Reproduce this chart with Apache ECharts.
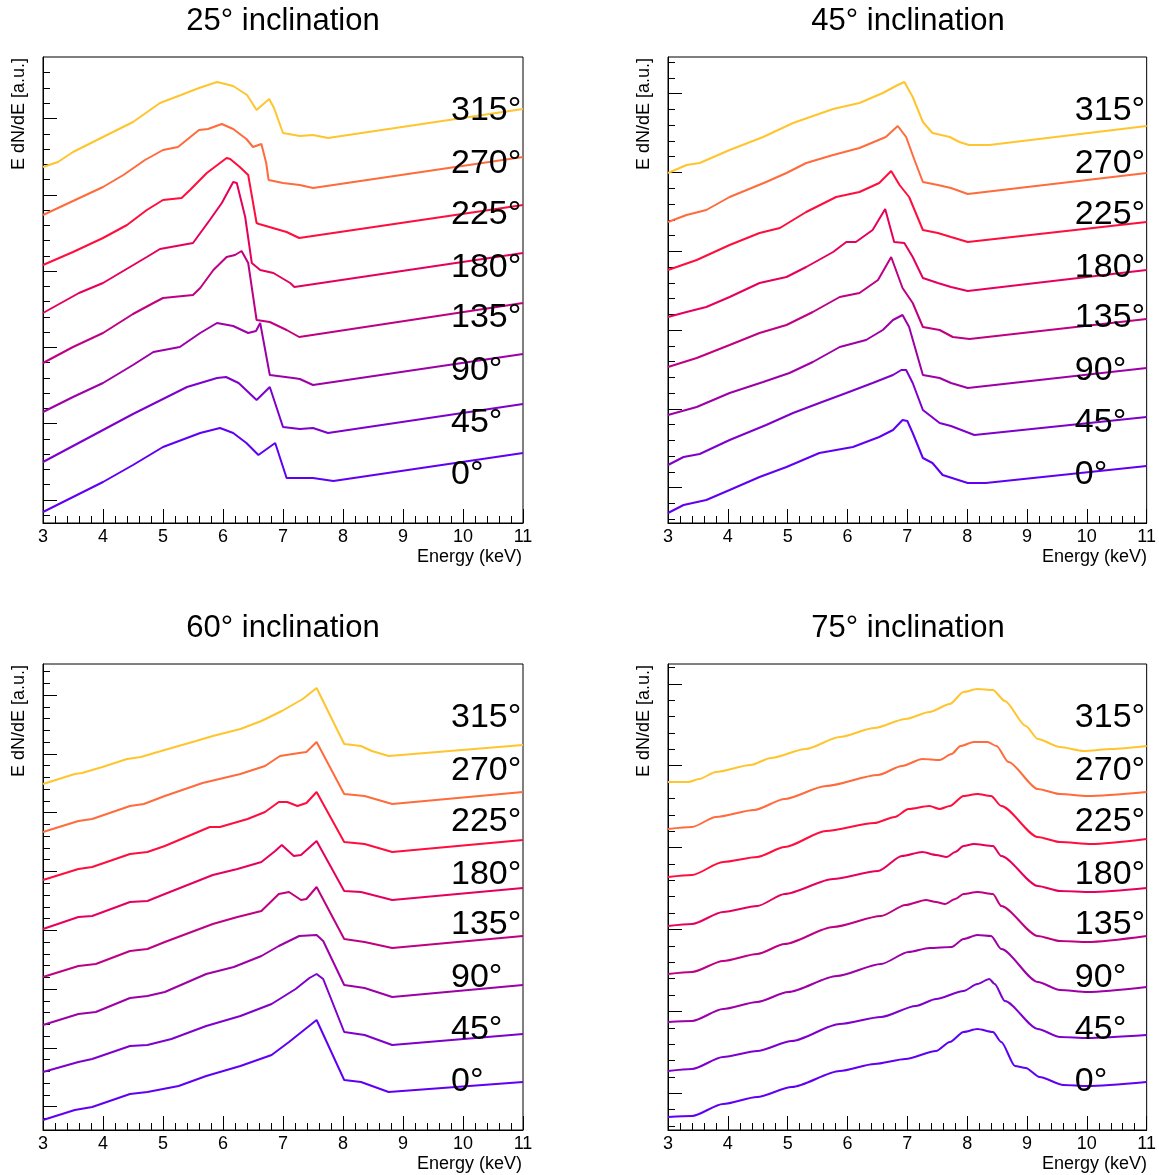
<!DOCTYPE html>
<html><head><meta charset="utf-8">
<script src="https://cdn.jsdelivr.net/npm/echarts@6/dist/echarts.min.js"></script>
<style>html,body{margin:0;padding:0;background:#fff}#c{width:1159px;height:1175px}</style>
</head><body><div id="c"></div>
<script>
// ---------- labels / categories ----------
const angleLabels = ['0°','45°','90°','135°','180°','225°','270°','315°'];
const curveColors = ['#5f00f5','#7d00cc','#9d00a6','#bf0080','#e6005e','#ff0d3d','#ff6b3b','#ffc52e'];
const panelTitles = ['25° inclination','45° inclination','60° inclination','75° inclination'];
const xTickValues = [3,4,5,6,7,8,9,10,11];
// y-axis tick marks (a.u.): first major tick and major spacing, per panel
const yMajorStart = [2.3, 3.53, 2.33, 3.67];
const yMajorStep  = [7.63, 7.88, 5.88, 8.19];
// angle-label anchor levels (a.u.) and energy (keV)
const labelLevels = [4.8, 10.0, 15.2, 20.5, 25.5, 30.8, 35.9, 41.2];
const labelEnergy = 9.8;

// ---------- 25° inclination : [energy keV, E dN/dE a.u. (offset)] ----------
const p25_0   = [[3,1.1],[3.5,2.6],[4,4.1],[4.5,5.8],[5,7.6],[5.62,9.0],[5.95,9.5],[6.17,9.0],[6.39,8.0],[6.59,6.8],[6.87,8.0],[7.06,4.5],[7.5,4.5],[7.84,4.2],[11,7.0]];
const p25_45  = [[3,6.1],[3.5,7.7],[4,9.3],[4.5,10.9],[4.9,12.1],[5.4,13.6],[5.9,14.5],[6.05,14.6],[6.26,14.0],[6.56,12.3],[6.78,13.6],[7.0,9.6],[7.28,9.4],[7.5,9.5],[7.75,9.0],[11,11.9]];
const p25_90  = [[3,11.1],[3.5,12.6],[4,14.0],[4.5,15.8],[4.84,17.1],[5.28,17.6],[5.62,19.0],[5.9,20.0],[6.17,19.7],[6.42,19.0],[6.55,19.2],[6.62,20.0],[6.78,14.8],[7.17,14.5],[7.28,14.4],[7.5,13.8],[11,16.9]];
const p25_135 = [[3,16.0],[3.5,17.6],[4,19.0],[4.5,20.9],[4.84,22.0],[5,22.5],[5.5,22.8],[5.62,23.5],[5.84,25.3],[6.06,26.6],[6.2,26.8],[6.31,27.2],[6.42,26.0],[6.56,20.3],[6.78,20.1],[7.06,19.3],[7.27,18.6],[11,22.0]];
const p25_180 = [[3,21.0],[3.6,23.0],[4,24.0],[4.73,26.6],[4.95,27.4],[5.5,28.0],[5.78,30.3],[5.98,32.0],[6.17,34.1],[6.23,34.0],[6.37,30.6],[6.48,26.0],[6.62,25.3],[6.84,25.0],[7.12,24.0],[7.19,23.6],[11,27.0]];
const p25_225 = [[3,25.8],[3.5,27.1],[4,28.5],[4.4,29.8],[4.73,31.3],[5,32.3],[5.31,32.5],[5.45,33.3],[5.73,35.0],[6.06,36.5],[6.12,36.4],[6.28,35.6],[6.42,34.8],[6.56,30.0],[6.6,29.9],[7.06,29.1],[7.27,28.5],[11,31.8]];
const p25_270 = [[3,30.8],[3.5,32.2],[4,33.6],[4.34,34.8],[4.7,36.3],[5,37.3],[5.25,37.6],[5.6,39.3],[5.75,39.4],[5.98,39.9],[6.17,39.4],[6.39,38.4],[6.5,37.6],[6.64,37.9],[6.72,36.0],[6.76,34.3],[7,34.0],[7.28,33.8],[7.5,33.5],[11,36.6]];
const p25_315 = [[3,35.6],[3.25,36.1],[3.5,37.1],[4,38.6],[4.5,40.1],[4.95,42.0],[5.3,42.8],[5.6,43.5],[5.9,44.1],[6.17,43.7],[6.4,42.8],[6.56,41.3],[6.77,42.4],[6.85,41.5],[7,39.0],[7.28,38.7],[7.5,38.8],[7.75,38.5],[11,41.4]];

// ---------- 45° inclination ----------
const p45_0   = [[3,1.0],[3.26,1.8],[3.64,2.3],[4.03,3.3],[4.53,4.6],[4.98,5.6],[5.53,7.0],[6.09,7.6],[6.53,8.6],[6.76,9.3],[6.92,10.3],[7.0,10.2],[7.09,9.0],[7.26,6.5],[7.42,6.0],[7.59,4.8],[8.01,4.0],[8.31,4.0],[11,5.7]];
const p45_45  = [[3,5.8],[3.26,6.6],[3.53,6.9],[4.03,8.3],[4.64,9.8],[5.09,11.0],[5.53,12.0],[5.98,13.0],[6.42,14.0],[6.76,14.8],[6.9,15.3],[6.98,15.3],[7.09,14.0],[7.26,11.3],[7.54,10.0],[7.73,9.7],[8.12,8.8],[11,10.6]];
const p45_90  = [[3,10.8],[3.48,11.6],[4.03,13.0],[4.59,14.1],[5.03,15.0],[5.42,16.1],[5.87,17.6],[6.31,18.3],[6.59,19.3],[6.76,20.3],[6.92,20.8],[7.03,19.6],[7.26,14.8],[7.54,14.5],[7.73,14.0],[8.01,13.5],[11,15.5]];
const p45_135 = [[3,15.6],[3.48,16.5],[4.03,17.8],[4.53,19.0],[4.98,19.8],[5.42,21.1],[5.87,22.6],[6.2,23.0],[6.51,24.3],[6.73,26.6],[6.92,23.5],[7.09,22.0],[7.26,19.6],[7.54,19.3],[7.76,18.6],[8.04,18.4],[11,20.4]];
const p45_180 = [[3,20.6],[3.31,21.1],[3.64,21.6],[4.03,22.6],[4.53,24.0],[4.98,24.6],[5.31,25.6],[5.76,27.1],[5.98,28.1],[6.14,28.1],[6.42,29.3],[6.63,31.4],[6.78,28.1],[6.95,28.0],[7.09,26.6],[7.26,24.5],[7.51,24.0],[7.73,23.6],[8.01,23.2],[11,25.3]];
const p45_225 = [[3,25.3],[3.48,26.3],[4.03,27.8],[4.53,29.0],[4.87,29.5],[5.31,31.1],[5.81,32.6],[6.2,33.1],[6.53,34.0],[6.73,35.2],[6.87,33.8],[7.03,32.6],[7.26,29.3],[7.51,29.0],[7.73,28.6],[8.01,28.1],[11,30.1]];
const p45_270 = [[3,30.1],[3.31,30.8],[3.64,31.3],[4.03,32.6],[4.64,34.1],[4.98,35.0],[5.31,36.0],[5.76,36.8],[6.2,37.5],[6.64,38.6],[6.84,39.7],[6.98,38.6],[7.12,36.3],[7.26,34.1],[7.51,33.8],[7.73,33.5],[8.01,32.9],[11,35.0]];
const p45_315 = [[3,35.0],[3.31,35.8],[3.53,36.0],[4.03,37.3],[4.59,38.6],[5.09,40.0],[5.76,41.4],[6.2,42.0],[6.59,43.0],[6.84,43.8],[6.95,44.1],[7.09,42.6],[7.26,40.1],[7.42,39.0],[7.71,38.6],[7.87,38.1],[8.03,37.8],[8.37,37.8],[11,39.7]];

// ---------- 60° inclination ----------
const p60_0   = [[3,1.0],[3.53,2.0],[3.82,2.3],[4.45,3.6],[4.74,3.8],[5.26,4.4],[5.72,5.4],[6.29,6.4],[6.81,7.5],[7.1,8.8],[7.33,9.9],[7.56,11.0],[8.02,5.0],[8.3,4.8],[8.76,3.8],[11,4.8]];
const p60_45  = [[3,5.8],[3.59,6.8],[3.82,7.1],[4.45,8.4],[4.74,8.5],[5.14,9.1],[5.72,10.4],[6.29,11.4],[6.81,12.6],[7.21,14.1],[7.44,15.2],[7.56,15.6],[7.67,15.1],[8.02,9.8],[8.36,9.5],[8.82,8.5],[11,9.6]];
const p60_90  = [[3,10.5],[3.59,11.6],[3.88,11.8],[4.45,13.2],[4.74,13.4],[5.03,13.8],[5.72,15.6],[6.18,16.3],[6.64,17.4],[6.93,18.4],[7.27,19.4],[7.56,19.5],[7.67,18.9],[8.02,14.5],[8.36,14.2],[8.82,13.3],[11,14.5]];
const p60_135 = [[3,15.3],[3.59,16.4],[3.88,16.6],[4.45,17.9],[4.74,18.1],[5.03,18.8],[5.83,20.6],[6.24,21.3],[6.64,21.9],[6.93,23.6],[7.1,23.8],[7.3,23.0],[7.39,23.1],[7.56,24.3],[8.02,19.1],[8.36,18.8],[8.82,18.2],[11,19.4]];
const p60_180 = [[3,20.1],[3.59,21.3],[3.82,21.4],[4.45,22.8],[4.74,22.9],[5.03,23.6],[5.83,25.5],[6.24,26.1],[6.64,26.8],[6.87,27.9],[6.98,28.5],[7.18,27.4],[7.3,27.5],[7.56,28.9],[8.02,23.9],[8.3,23.8],[8.82,23.0],[11,24.2]];
const p60_225 = [[3,25.0],[3.59,26.1],[3.82,26.3],[4.45,27.6],[4.74,27.8],[5.03,28.4],[5.78,30.3],[5.95,30.3],[6.41,31.1],[6.7,31.8],[6.93,32.8],[7.07,32.8],[7.24,32.4],[7.39,32.7],[7.56,33.8],[8.02,28.8],[8.36,28.6],[8.82,27.8],[11,29.0]];
const p60_270 = [[3,29.8],[3.59,30.9],[3.82,31.1],[4.45,32.4],[4.68,32.6],[5.03,33.4],[5.66,34.7],[6.29,35.6],[6.7,36.4],[6.95,37.4],[7.27,37.7],[7.39,37.8],[7.56,38.8],[8.02,33.6],[8.36,33.4],[8.82,32.6],[11,33.8]];
const p60_315 = [[3,34.6],[3.53,35.6],[3.65,35.7],[3.99,36.3],[4.4,37.1],[4.63,37.3],[4.97,37.9],[5.55,38.9],[5.83,39.4],[6.29,40.1],[6.64,40.9],[6.98,41.9],[7.33,43.1],[7.56,44.2],[7.79,41.4],[8.02,38.6],[8.3,38.4],[8.48,37.9],[8.76,37.4],[11,38.5]];

// ---------- 75° inclination ----------
const p75_0   = [[3,1.3],[3.4,1.4],[3.92,2.6],[4.49,3.3],[5.07,4.3],[5.87,5.9],[6.45,6.6],[6.97,7.1],[7.48,7.9],[7.71,8.8],[7.94,9.8],[8.17,10.1],[8.43,9.8],[8.57,8.8],[8.8,6.4],[8.98,6.2],[9.21,5.3],[9.61,4.5],[10.01,4.4],[11,4.8]];
const p75_45  = [[3,5.9],[3.4,6.1],[3.92,7.3],[4.49,7.9],[5.07,8.9],[5.87,10.6],[6.56,11.3],[7.14,12.4],[7.48,13.1],[7.94,13.9],[8.17,14.6],[8.37,15.1],[8.46,14.6],[8.63,12.9],[9.18,10.1],[9.55,9.3],[10.01,9.2],[11,9.5]];
const p75_90  = [[3,10.8],[3.4,10.9],[3.92,12.1],[4.49,12.8],[5.01,13.8],[5.82,15.4],[6.56,16.6],[7.02,17.8],[7.37,18.2],[7.74,18.3],[7.94,19.1],[8.17,19.5],[8.4,19.4],[8.57,18.1],[9.18,14.8],[9.55,14.0],[10.01,13.8],[11,14.3]];
const p75_135 = [[3,15.6],[3.4,15.8],[3.92,16.9],[4.49,17.6],[4.95,18.6],[5.76,20.3],[6.56,21.4],[6.97,22.5],[7.31,23.0],[7.48,22.8],[7.63,22.6],[7.8,23.1],[7.94,23.6],[8.17,23.8],[8.43,23.6],[8.57,22.4],[9.18,19.4],[9.55,18.9],[10.01,18.8],[11,19.4]];
const p75_180 = [[3,20.4],[3.4,20.6],[3.92,21.8],[4.49,22.4],[4.95,23.6],[5.76,25.1],[6.51,25.9],[6.91,27.4],[7.25,27.8],[7.48,27.5],[7.66,27.3],[7.8,27.8],[7.94,28.4],[8.11,28.6],[8.43,28.4],[8.57,27.4],[9.18,24.4],[9.55,23.9],[10.07,23.8],[11,24.2]];
const p75_225 = [[3,25.3],[3.4,25.5],[3.92,26.8],[4.49,27.3],[4.95,28.3],[5.64,29.9],[6.45,30.7],[6.79,31.3],[7.02,32.1],[7.37,32.4],[7.54,32.1],[7.71,32.4],[7.94,33.4],[8.17,33.6],[8.4,33.4],[8.57,32.4],[9.18,29.3],[9.55,28.8],[10.07,28.6],[11,29.1]];
const p75_270 = [[3,30.1],[3.4,30.3],[3.8,31.3],[4.44,32.0],[4.95,33.1],[5.64,34.4],[6.51,35.5],[6.91,36.4],[7.25,37.1],[7.54,37.0],[7.74,37.6],[7.89,38.4],[8.11,38.8],[8.34,38.8],[8.49,38.4],[8.69,36.8],[9.18,34.1],[9.55,33.6],[10.01,33.4],[11,33.8]];
const p75_315 = [[3,34.8],[3.34,34.8],[3.52,35.1],[3.8,35.8],[4.38,36.5],[4.72,37.2],[5.3,38.1],[5.87,39.3],[6.45,40.2],[6.97,41.1],[7.37,41.8],[7.71,42.6],[7.94,43.8],[8.17,44.1],[8.43,44.0],[8.63,42.9],[8.98,40.4],[9.18,39.1],[9.55,38.3],[9.95,37.9],[10.41,38.1],[11,38.4]];

const panelCurves = [
  [p25_0,p25_45,p25_90,p25_135,p25_180,p25_225,p25_270,p25_315],
  [p45_0,p45_45,p45_90,p45_135,p45_180,p45_225,p45_270,p45_315],
  [p60_0,p60_45,p60_90,p60_135,p60_180,p60_225,p60_270,p60_315],
  [p75_0,p75_45,p75_90,p75_135,p75_180,p75_225,p75_270,p75_315]
];
const panelSmooth = [0, 0, 0, 0.25];

// ---------- layout ----------
const FONT = '"Liberation Sans", Arial, Helvetica, sans-serif';
const Y_MAX = 46.6;
const grids = [
  {left: 43,  top: 57,  width: 480, height: 466},
  {left: 668, top: 57,  width: 480, height: 466},
  {left: 43,  top: 664, width: 480, height: 466},
  {left: 668, top: 664, width: 480, height: 466}
];

function ticksFor(i) {
  const majors = [], minors = [];
  const step = yMajorStep[i] / 5;
  let v = yMajorStart[i];
  while (v - step > 0) v -= step;
  for (let k = 0; v + k * step < Y_MAX - 0.05; k++) {
    const t = +(v + k * step).toFixed(3);
    const off = Math.round((t - yMajorStart[i]) / step);
    if (off % 5 === 0) majors.push(t); else minors.push(t);
  }
  return {majors, minors};
}

const option = {
  animation: false,
  backgroundColor: '#fff',
  title: [], grid: [], xAxis: [], yAxis: [], series: [], graphic: []
};

grids.forEach((g, i) => {
  option.grid.push(Object.assign({show: true, borderColor: '#000', borderWidth: 1, backgroundColor: 'transparent'}, g));
  option.title.push({
    text: panelTitles[i], left: g.left + g.width / 2, top: g.top - 51, padding: 0,
    textAlign: 'center', textVerticalAlign: 'top',
    textStyle: {fontSize: 31, fontWeight: 'normal', color: '#000', fontFamily: FONT}
  });
  option.xAxis.push({
    gridIndex: i, type: 'value', min: xTickValues[0], max: xTickValues[xTickValues.length - 1], interval: 1,
    axisLine: {show: true, onZero: false, lineStyle: {color: '#000', width: 1}},
    axisTick: {show: true, inside: true, length: 14, lineStyle: {color: '#000', width: 1}},
    minorTick: {show: true, splitNumber: 5, length: 7, lineStyle: {color: '#000', width: 1}},
    splitLine: {show: false}, minorSplitLine: {show: false},
    axisLabel: {show: true, color: '#000', fontSize: 18, fontFamily: FONT, margin: 5, showMinLabel: true, showMaxLabel: true}
  });
  const t = ticksFor(i);
  option.yAxis.push({
    gridIndex: i, type: 'value', min: 0, max: Y_MAX, position: 'left', offset: 0,
    axisLine: {show: true, onZero: false, lineStyle: {color: '#000', width: 1}},
    axisTick: {show: true, inside: true, length: 14, customValues: t.majors, lineStyle: {color: '#000', width: 1}},
    axisLabel: {show: false}, splitLine: {show: false}
  });
  option.yAxis.push({
    gridIndex: i, type: 'value', min: 0, max: Y_MAX, position: 'left', offset: 0,
    axisLine: {show: false},
    axisTick: {show: true, inside: true, length: 7, customValues: t.minors, lineStyle: {color: '#000', width: 1}},
    axisLabel: {show: false}, splitLine: {show: false}
  });
  panelCurves[i].forEach((data, k) => {
    option.series.push({
      type: 'line', xAxisIndex: i, yAxisIndex: 2 * i, data: data,
      showSymbol: false, symbol: 'none', smooth: panelSmooth[i], smoothMonotone: 'x',
      lineStyle: {color: curveColors[k], width: 2}, itemStyle: {color: curveColors[k]},
      silent: true, z: 3
    });
  });
  option.series.push({
    type: 'scatter', xAxisIndex: i, yAxisIndex: 2 * i, symbolSize: 0, clip: false, silent: true, z: 5,
    itemStyle: {opacity: 1, color: '#000'},
    data: labelLevels.map((lv, k) => ({value: [labelEnergy, lv], name: angleLabels[k]})),
    label: {show: true, position: 'right', distance: 0, formatter: p => p.name, opacity: 1,
            color: '#000', fontSize: 34, fontFamily: FONT, align: 'left', verticalAlign: 'middle'}
  });
  option.graphic.push({
    type: 'text', x: g.left + g.width - 1, y: g.top + g.height + 25,
    style: {text: 'Energy (keV)', font: '18px ' + FONT, fill: '#000', align: 'right', textAlign: 'right', verticalAlign: 'top', textVerticalAlign: 'top'}
  });
  option.graphic.push({
    type: 'text', x: g.left - 24, y: g.top + 1, rotation: Math.PI / 2,
    style: {text: 'E dN/dE [a.u.]', font: '18px ' + FONT, fill: '#000', align: 'right', textAlign: 'right', verticalAlign: 'middle', textVerticalAlign: 'middle'}
  });
});

const chart = echarts.init(document.getElementById('c'), null, {renderer: 'canvas'});
chart.setOption(option);
</script>
</body></html>
